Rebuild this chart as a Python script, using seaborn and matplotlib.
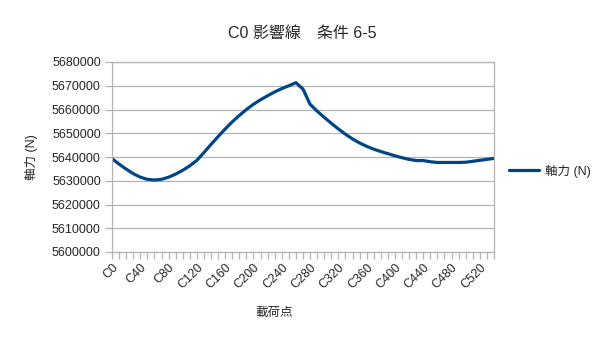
import matplotlib
matplotlib.use("Agg")
import matplotlib.pyplot as plt
import seaborn as sns
import pandas as pd
from matplotlib.ticker import FixedLocator, FuncFormatter

categories = ["C%d" % v for v in range(0, 550, 10)]
axial_force = [
    5639300, 5637000, 5634900, 5633000, 5631500, 5630600, 5630300, 5630600,
    5631500, 5632800, 5634400, 5636300, 5638600, 5641900, 5645300, 5648600,
    5651800, 5654800, 5657500, 5660000, 5662200, 5664100, 5665800, 5667400,
    5668800, 5670000, 5671300, 5668600, 5662200, 5659300, 5656700, 5654200,
    5651800, 5649600, 5647600, 5645900, 5644500, 5643300, 5642300, 5641400,
    5640500, 5639700, 5639000, 5638500, 5638500, 5638000, 5637700, 5637700,
    5637700, 5637700, 5637800, 5638200, 5638600, 5639000, 5639400,
]
y_ticks = [5600000, 5610000, 5620000, 5630000, 5640000, 5650000, 5660000, 5670000, 5680000]

title = "C0 影響線　条件 6-5"
series_name = "軸力 (N)"
x_label = "載荷点"
y_label = "軸力 (N)"

sns.set_theme(style="white")
plt.rcParams["font.family"] = ["Liberation Sans", "Noto Sans CJK JP", "DejaVu Sans"]

df = pd.DataFrame({"cat": categories, "val": axial_force})

fig = plt.figure(figsize=(6.05, 3.41), dpi=100)
ax = fig.add_axes([112 / 605, 1 - 252 / 341, (494 - 112) / 605, (252 - 62) / 341])

sns.lineplot(data=df, x="cat", y="val", ax=ax, color="#004586", linewidth=2.3,
             label=series_name, sort=False)

grid_c = "#b3b3b3"
ax.set_xlim(0, len(categories) - 1)
ax.set_ylim(y_ticks[0], y_ticks[-1])
ax.set_yticks(y_ticks)
ax.yaxis.set_major_formatter(FuncFormatter(lambda v, p: "%d" % v))
ax.yaxis.grid(True, color=grid_c, linewidth=0.9)
ax.xaxis.grid(False)

major = list(range(0, len(categories), 4))
ax.xaxis.set_major_locator(FixedLocator(major))
ax.set_xticklabels([categories[i] for i in major], rotation=45, ha="right",
                   rotation_mode="anchor", fontsize=9)
ax.xaxis.set_minor_locator(FixedLocator(list(range(len(categories)))))
ax.tick_params(axis="x", which="both", direction="out", length=5, color=grid_c,
               width=0.9, bottom=True, pad=2)
ax.tick_params(axis="y", direction="out", length=5, color=grid_c, width=0.9,
               left=True, labelsize=9, pad=3)
for s in ax.spines.values():
    s.set_color(grid_c)
    s.set_linewidth(0.9)

ax.set_xlabel("")
ax.set_ylabel("")
fig.text(302 / 605, 1 - 33 / 341, title, ha="center", va="center", fontsize=11.5)
fig.text(274 / 605, 1 - 313 / 341, x_label, ha="center", va="center", fontsize=9)
fig.text(32 / 605, 1 - 157 / 341, y_label, ha="center", va="center", fontsize=9,
         rotation=90)

leg = ax.legend(loc="center left", bbox_to_anchor=(509 / 605, 1 - 171 / 341),
                bbox_transform=fig.transFigure, frameon=False, fontsize=9,
                handlelength=2.4, handletextpad=0.5, borderaxespad=0,
                borderpad=0)

fig.savefig("out.png", dpi=100)
